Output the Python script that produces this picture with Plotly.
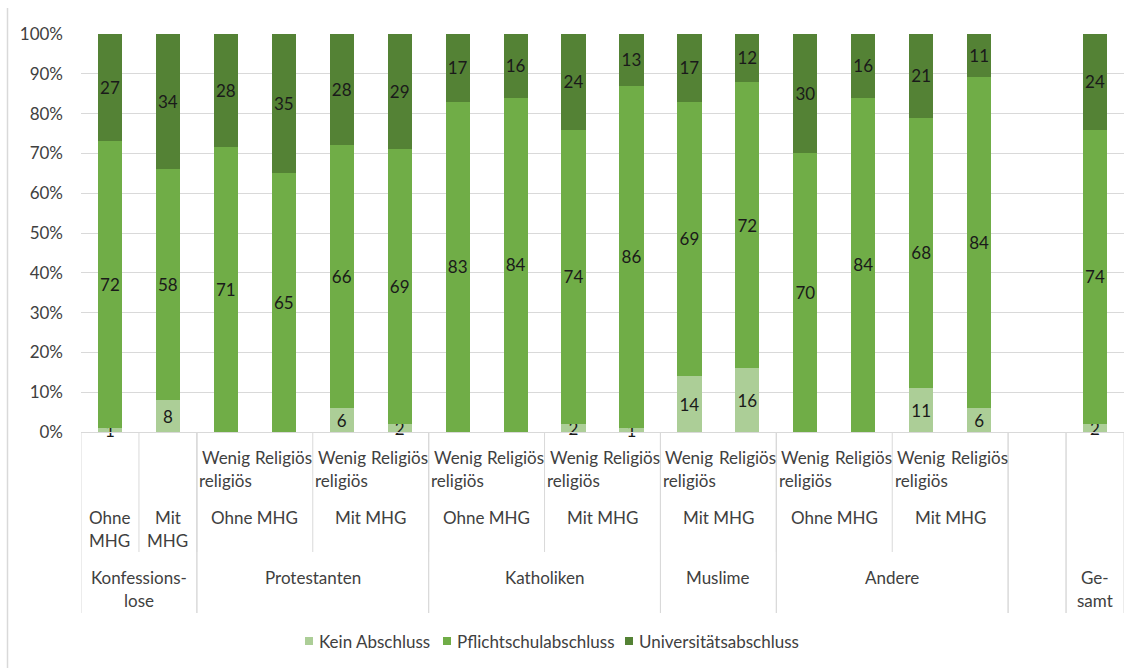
import plotly.graph_objects as go

# --- data -----------------------------------------------------------------
# 18 category slots (slot 16 is an empty spacer before "Gesamt")
kein_abschluss = [1, 8, 0, 0, 6, 2, 0, 0, 2, 1, 14, 16, 0, 0, 11, 6, None, 2]
pflichtschule = [72, 58, 71, 65, 66, 69, 83, 84, 74, 86, 69, 72, 70, 84, 68, 84, None, 74]
universitaet = [27, 34, 28, 35, 28, 29, 17, 16, 24, 13, 17, 12, 30, 16, 21, 11, None, 24]

leaf_labels = ["", "",
               "Wenig\nreligiös", "Religiös", "Wenig\nreligiös", "Religiös",
               "Wenig\nreligiös", "Religiös", "Wenig\nreligiös", "Religiös",
               "Wenig\nreligiös", "Religiös",
               "Wenig\nreligiös", "Religiös", "Wenig\nreligiös", "Religiös",
               "", ""]

# (label, first slot, end slot)
mhg_groups = [("Ohne\nMHG", 0, 1), ("Mit\nMHG", 1, 2),
              ("Ohne MHG", 2, 4), ("Mit MHG", 4, 6),
              ("Ohne MHG", 6, 8), ("Mit MHG", 8, 10),
              ("Mit MHG", 10, 12),
              ("Ohne MHG", 12, 14), ("Mit MHG", 14, 16)]
religion_groups = [("Konfessions-\nlose", 0, 2), ("Protestanten", 2, 6),
                   ("Katholiken", 6, 10), ("Muslime", 10, 12),
                   ("Andere", 12, 16), ("", 16, 17), ("Ge-\nsamt", 17, 18)]

series_names = ["Kein Abschluss", "Pflichtschulabschluss", "Universitätsabschluss"]
series_values = [kein_abschluss, pflichtschule, universitaet]
series_colors = ["#acce97", "#70ad47", "#548235"]

# --- layout constants -------------------------------------------------------
W, H = 1137, 668
PLOT_L, PLOT_R, PLOT_T, PLOT_B = 81, 1124, 34, 432
FONT = "Lato, Calibri, Carlito, sans-serif"
AXIS_GREY = "#d9d9d9"
TEXT_GREY = "#404040"
LABEL_SIZE = 17
LEGEND_Y = 641
LEGEND_SWATCH_X = [305, 443, 625]   # left edge of each legend swatch (px)
SWATCH = 8


def py(y_px):
    """pixel row -> paper y"""
    return (PLOT_B - y_px) / (PLOT_B - PLOT_T)


def px(x_px):
    """pixel column -> paper x"""
    return (x_px - PLOT_L) / (PLOT_R - PLOT_L)


slots = list(range(len(kein_abschluss)))

fig = go.Figure()
for name, values, color in zip(series_names, series_values, series_colors):
    fig.add_trace(go.Bar(
        x=slots, y=values, name=name,
        marker=dict(color=color, line=dict(width=0)),
        text=[str(v) if v else "" for v in values],
        textposition="inside", insidetextanchor="middle", textangle=0,
        textfont=dict(family=FONT, size=LABEL_SIZE, color="#1a1a1a"),
        constraintext="none", cliponaxis=False, hoverinfo="skip",
        showlegend=False,
    ))

annotations = []
shapes = []
LINE_GAP = 23


def add_lines(text, x_center, first_row_y):
    for i, line in enumerate(text.split("\n")):
        annotations.append(dict(
            x=x_center, xref="x", y=py(first_row_y + i * LINE_GAP), yref="paper",
            text=line, showarrow=False, xanchor="center", yanchor="middle",
            font=dict(family=FONT, size=LABEL_SIZE, color=TEXT_GREY)))


# level 3: religiosity
for i, lab in enumerate(leaf_labels):
    if lab:
        add_lines(lab, i, 457)

# level 2: migration background
for lab, a, b in mhg_groups:
    add_lines(lab, (a + b - 1) / 2, 517)
    if a > 0:
        shapes.append(dict(type="line", xref="x", yref="paper",
                           x0=a - 0.5, x1=a - 0.5, y0=py(PLOT_B), y1=py(552),
                           line=dict(color=AXIS_GREY, width=1)))

# level 1: denomination
for lab, a, b in religion_groups:
    if lab:
        add_lines(lab, (a + b - 1) / 2, 577)
    for edge in (a, b):
        shapes.append(dict(type="line", xref="x", yref="paper",
                           x0=edge - 0.5, x1=edge - 0.5, y0=py(PLOT_B), y1=py(613),
                           line=dict(color=AXIS_GREY, width=1)))

# left edge of the chart frame
shapes.append(dict(type="line", xref="paper", yref="paper",
                   x0=px(7.5), x1=px(7.5), y0=py(8), y1=py(H),
                   line=dict(color=AXIS_GREY, width=1.5)))

# legend: square swatch followed by the series name
for name, color, sx in zip(series_names, series_colors, LEGEND_SWATCH_X):
    shapes.append(dict(type="rect", xref="paper", yref="paper",
                       x0=px(sx), x1=px(sx + SWATCH),
                       y0=py(LEGEND_Y - SWATCH / 2), y1=py(LEGEND_Y + SWATCH / 2),
                       fillcolor=color, line=dict(width=0)))
    annotations.append(dict(
        x=px(sx + SWATCH + 4), xref="paper", y=py(LEGEND_Y), yref="paper",
        text=name, showarrow=False, xanchor="left", yanchor="middle",
        font=dict(family=FONT, size=LABEL_SIZE, color=TEXT_GREY)))

fig.update_layout(
    width=W, height=H,
    margin=dict(l=PLOT_L, r=W - PLOT_R, t=PLOT_T, b=H - PLOT_B, pad=0),
    paper_bgcolor="white", plot_bgcolor="white",
    barmode="stack", barnorm="percent", bargap=0.583,
    uniformtext=dict(mode="show", minsize=LABEL_SIZE),
    font=dict(family=FONT, size=LABEL_SIZE, color=TEXT_GREY),
    xaxis=dict(range=[-0.5, len(slots) - 0.5], showticklabels=False,
               showgrid=False, zeroline=False, showline=True,
               linecolor=AXIS_GREY, linewidth=1, ticks=""),
    yaxis=dict(range=[0, 100], dtick=10, ticksuffix="%",
               showgrid=True, gridcolor=AXIS_GREY, gridwidth=1,
               zeroline=False, showline=False, ticks="",
               ticklabelstandoff=17,
               tickfont=dict(family=FONT, size=LABEL_SIZE, color=TEXT_GREY)),
    annotations=annotations, shapes=shapes,
    showlegend=False,
)

fig.write_html("out.html")
